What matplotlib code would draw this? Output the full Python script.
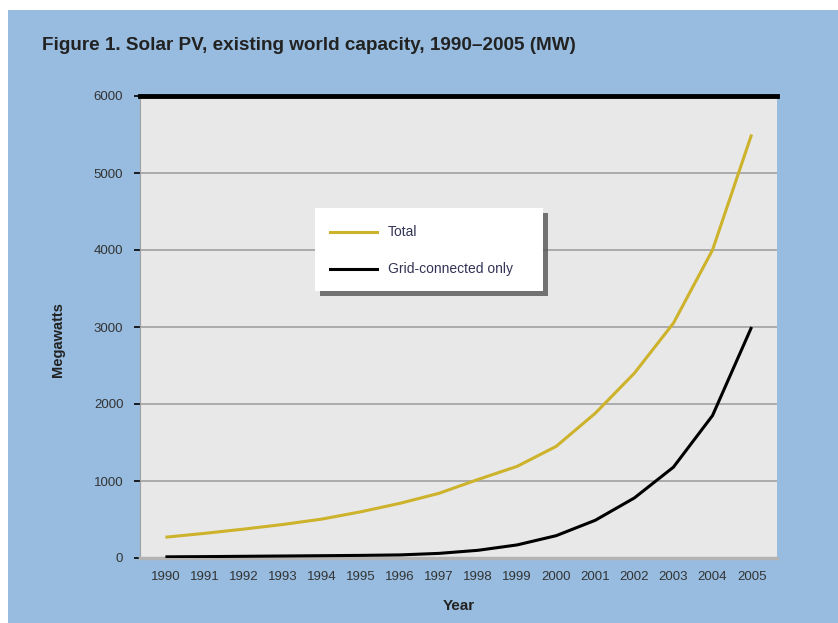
import matplotlib
matplotlib.use("Agg")
from matplotlib import pyplot as plt
from matplotlib.patches import Rectangle
from matplotlib.lines import Line2D

years = list(range(1990, 2006))
total = [270, 320, 375, 435, 505, 600, 710, 840, 1020, 1190, 1450, 1880, 2400, 3050, 4000, 5500]
grid_only = [15, 18, 22, 26, 30, 34, 40, 60, 100, 170, 290, 490, 780, 1180, 1850, 3000]
yticks = [0, 1000, 2000, 3000, 4000, 5000, 6000]

W, H = 838, 623
BLUE = "#97bcdf"
GOLD = "#cdb22b"
plt.rcParams["font.family"] = ["Liberation Sans", "DejaVu Sans"]

fig = plt.figure(figsize=(W / 100, H / 100), dpi=100, facecolor="white")
fig.patches.append(Rectangle((8 / W, 0), 1, (H - 10) / H, transform=fig.transFigure,
                             facecolor=BLUE, edgecolor="none", zorder=-5))

ax = fig.add_axes([140 / W, 1 - 558 / H, (777 - 140) / W, (558 - 96) / H])
ax.set_facecolor("#e8e8e8")
ax.set_xlim(1989.35, 2005.65)
ax.set_ylim(0, 6000)

for v in yticks[1:-1]:
    ax.axhline(v, color="#9a9a9a", lw=1.1, zorder=1)
ax.axhline(6000, color="black", lw=3.5, zorder=3, clip_on=False)

ax.plot(years, total, color=GOLD, lw=2.2, zorder=4, solid_capstyle="butt")
ax.plot(years, grid_only, color="black", lw=2.2, zorder=4, solid_capstyle="butt")

for side in ["top", "right"]:
    ax.spines[side].set_visible(False)
ax.spines["left"].set_color("#a0a0a0")
ax.spines["bottom"].set_color("#b4b4b4")
ax.spines["bottom"].set_linewidth(2.5)

ax.set_yticks(yticks)
ax.set_yticklabels([str(v) for v in yticks])
ax.set_xticks(years)
ax.set_xticklabels([str(y) for y in years])
ax.tick_params(axis="y", length=4, width=1.2, color="black", labelsize=9.5,
               labelcolor="#333333", pad=8)
ax.tick_params(axis="x", length=0, labelsize=9.5, labelcolor="#333333", pad=9)

ax.set_xlabel("Year", fontsize=11, fontweight="bold", color="#222222", labelpad=12)
fig.text(58 / W, 1 - 340 / H, "Megawatts", rotation=90, ha="center", va="center",
         fontsize=10.5, fontweight="bold", color="#222222")

fig.text(42 / W, 1 - 46 / H, "Figure 1. Solar PV, existing world capacity, 1990\u20132005 (MW)",
         ha="left", va="center", fontsize=13.6, fontweight="bold", color="#222222")

# legend box with shadow
lx0, lx1, ly0, ly1 = 315, 543, 208, 291
fig.patches.append(Rectangle(((lx0 + 5) / W, 1 - (ly1 + 5) / H), (lx1 - lx0) / W, (ly1 - ly0) / H,
                             transform=fig.transFigure, facecolor="#555555", edgecolor="none",
                             alpha=0.8, zorder=5))
fig.patches.append(Rectangle((lx0 / W, 1 - ly1 / H), (lx1 - lx0) / W, (ly1 - ly0) / H,
                             transform=fig.transFigure, facecolor="white", edgecolor="none",
                             zorder=6))
for yy, col, lab in [(232, GOLD, "Total"), (269, "black", "Grid-connected only")]:
    fig.lines.append(Line2D([330 / W, 377 / W], [1 - yy / H, 1 - yy / H], transform=fig.transFigure,
                            color=col, lw=2.2, zorder=7))
    fig.text(388 / W, 1 - yy / H, lab, ha="left", va="center", fontsize=10,
             color="#333355", zorder=7)

fig.savefig("out.png", dpi=100, facecolor=fig.get_facecolor())
